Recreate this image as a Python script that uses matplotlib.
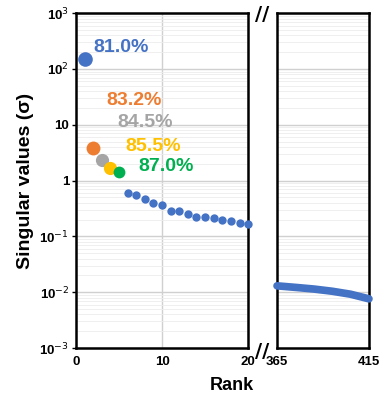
import matplotlib.pyplot as plt
import numpy as np

plt.rcParams['font.family'] = ['Liberation Sans', 'DejaVu Sans']

# singular values
top_ranks = [1, 2, 3, 4, 5]
top_values = [150, 3.8, 2.3, 1.65, 1.4]
top_colors = ['#4472C4', '#ED7D31', '#A5A5A5', '#FFC000', '#00B050']
top_sizes = [10.5, 10, 9.5, 9.5, 8.5]
top_labels = ['81.0%', '83.2%', '84.5%', '85.5%', '87.0%']
label_x = [2.0, 3.5, 4.8, 5.7, 7.2]
label_y = [245, 27.5, 11.2, 4.1, 1.8]

mid_ranks = list(range(6, 21))
mid_values = [0.61, 0.55, 0.47, 0.40, 0.36, 0.29, 0.28, 0.25, 0.22, 0.22,
              0.21, 0.195, 0.19, 0.175, 0.17]

tail_ranks = [365, 375, 385, 395, 405, 415]
tail_values = [0.0130, 0.0122, 0.0114, 0.0104, 0.0092, 0.0076]

ytick_vals = [1e-3, 1e-2, 1e-1, 1, 10, 1e2, 1e3]
ytick_labels = ['10$^{-3}$', '10$^{-2}$', '10$^{-1}$', '1', '10', '10$^{2}$', '10$^{3}$']

blue = '#4472C4'

fig = plt.figure(figsize=(3.8, 3.93), dpi=100)
ax1 = fig.add_axes([0.2, 0.1145, 0.453, 0.852])
ax2 = fig.add_axes([0.729, 0.1145, 0.242, 0.852])

for ax in (ax1, ax2):
    ax.set_yscale('log')
    ax.set_ylim(1e-3, 1e3)
    ax.grid(True, which='major', axis='y', color='#d0d0d0', lw=1.0)
    ax.grid(True, which='minor', axis='y', color='#ececec', lw=0.6)
    ax.set_axisbelow(True)
    for s in ax.spines.values():
        s.set_linewidth(1.8)
        s.set_zorder(2)
    ax.tick_params(which='both', length=0)
    ax.set_yticks(ytick_vals)
    ax.minorticks_on()
    ax.tick_params(axis='x', which='minor', bottom=False)

# left panel
for r, v, c, m in zip(top_ranks, top_values, top_colors, top_sizes):
    ax1.plot(r, v, 'o', color=c, ms=m, mec='none', zorder=3, clip_on=False)
ax1.plot(mid_ranks, mid_values, 'o', color=blue, ms=6, mec='none', zorder=3, clip_on=False)
for t, x, y, c in zip(top_labels, label_x, label_y, top_colors):
    ax1.text(x, y, t, color=c, fontsize=14, fontweight='bold', va='center', ha='left')

ax1.set_xlim(0, 20)
ax1.set_xticks([0, 10, 20])
ax1.grid(True, which='major', axis='x', color='#d0d0d0', lw=1.0)
ax1.set_yticklabels(ytick_labels, fontsize=9.5, fontweight='bold')
ax1.set_xticklabels(['0', '10', '20'], fontsize=9.5, fontweight='bold')
ax1.tick_params(axis='y', which='major', length=3, width=1, pad=2)
ax1.tick_params(axis='x', pad=6)
ax1.set_ylabel('Singular values (σ)', fontsize=14, fontweight='bold', labelpad=4)

# right panel
ax2.plot(tail_ranks, tail_values, '-', color=blue, lw=5.5, solid_capstyle='round',
         zorder=3, clip_on=False)
ax2.set_xlim(365, 415)
ax2.set_xticks([365, 415])
ax2.set_xticklabels(['365', '415'], fontsize=9.5, fontweight='bold')
ax2.tick_params(axis='x', pad=6)
ax2.set_yticklabels([])

# axis break marks
fig.text(0.69, 0.962, '//', fontsize=14, fontweight='bold', family='DejaVu Sans',
         ha='center', va='center')
fig.text(0.69, 0.106, '//', fontsize=14, fontweight='bold', family='DejaVu Sans',
         ha='center', va='center')

fig.text(0.61, 0.02, 'Rank', fontsize=13, fontweight='bold', ha='center', va='center')

fig.savefig('out.png', dpi=100)
